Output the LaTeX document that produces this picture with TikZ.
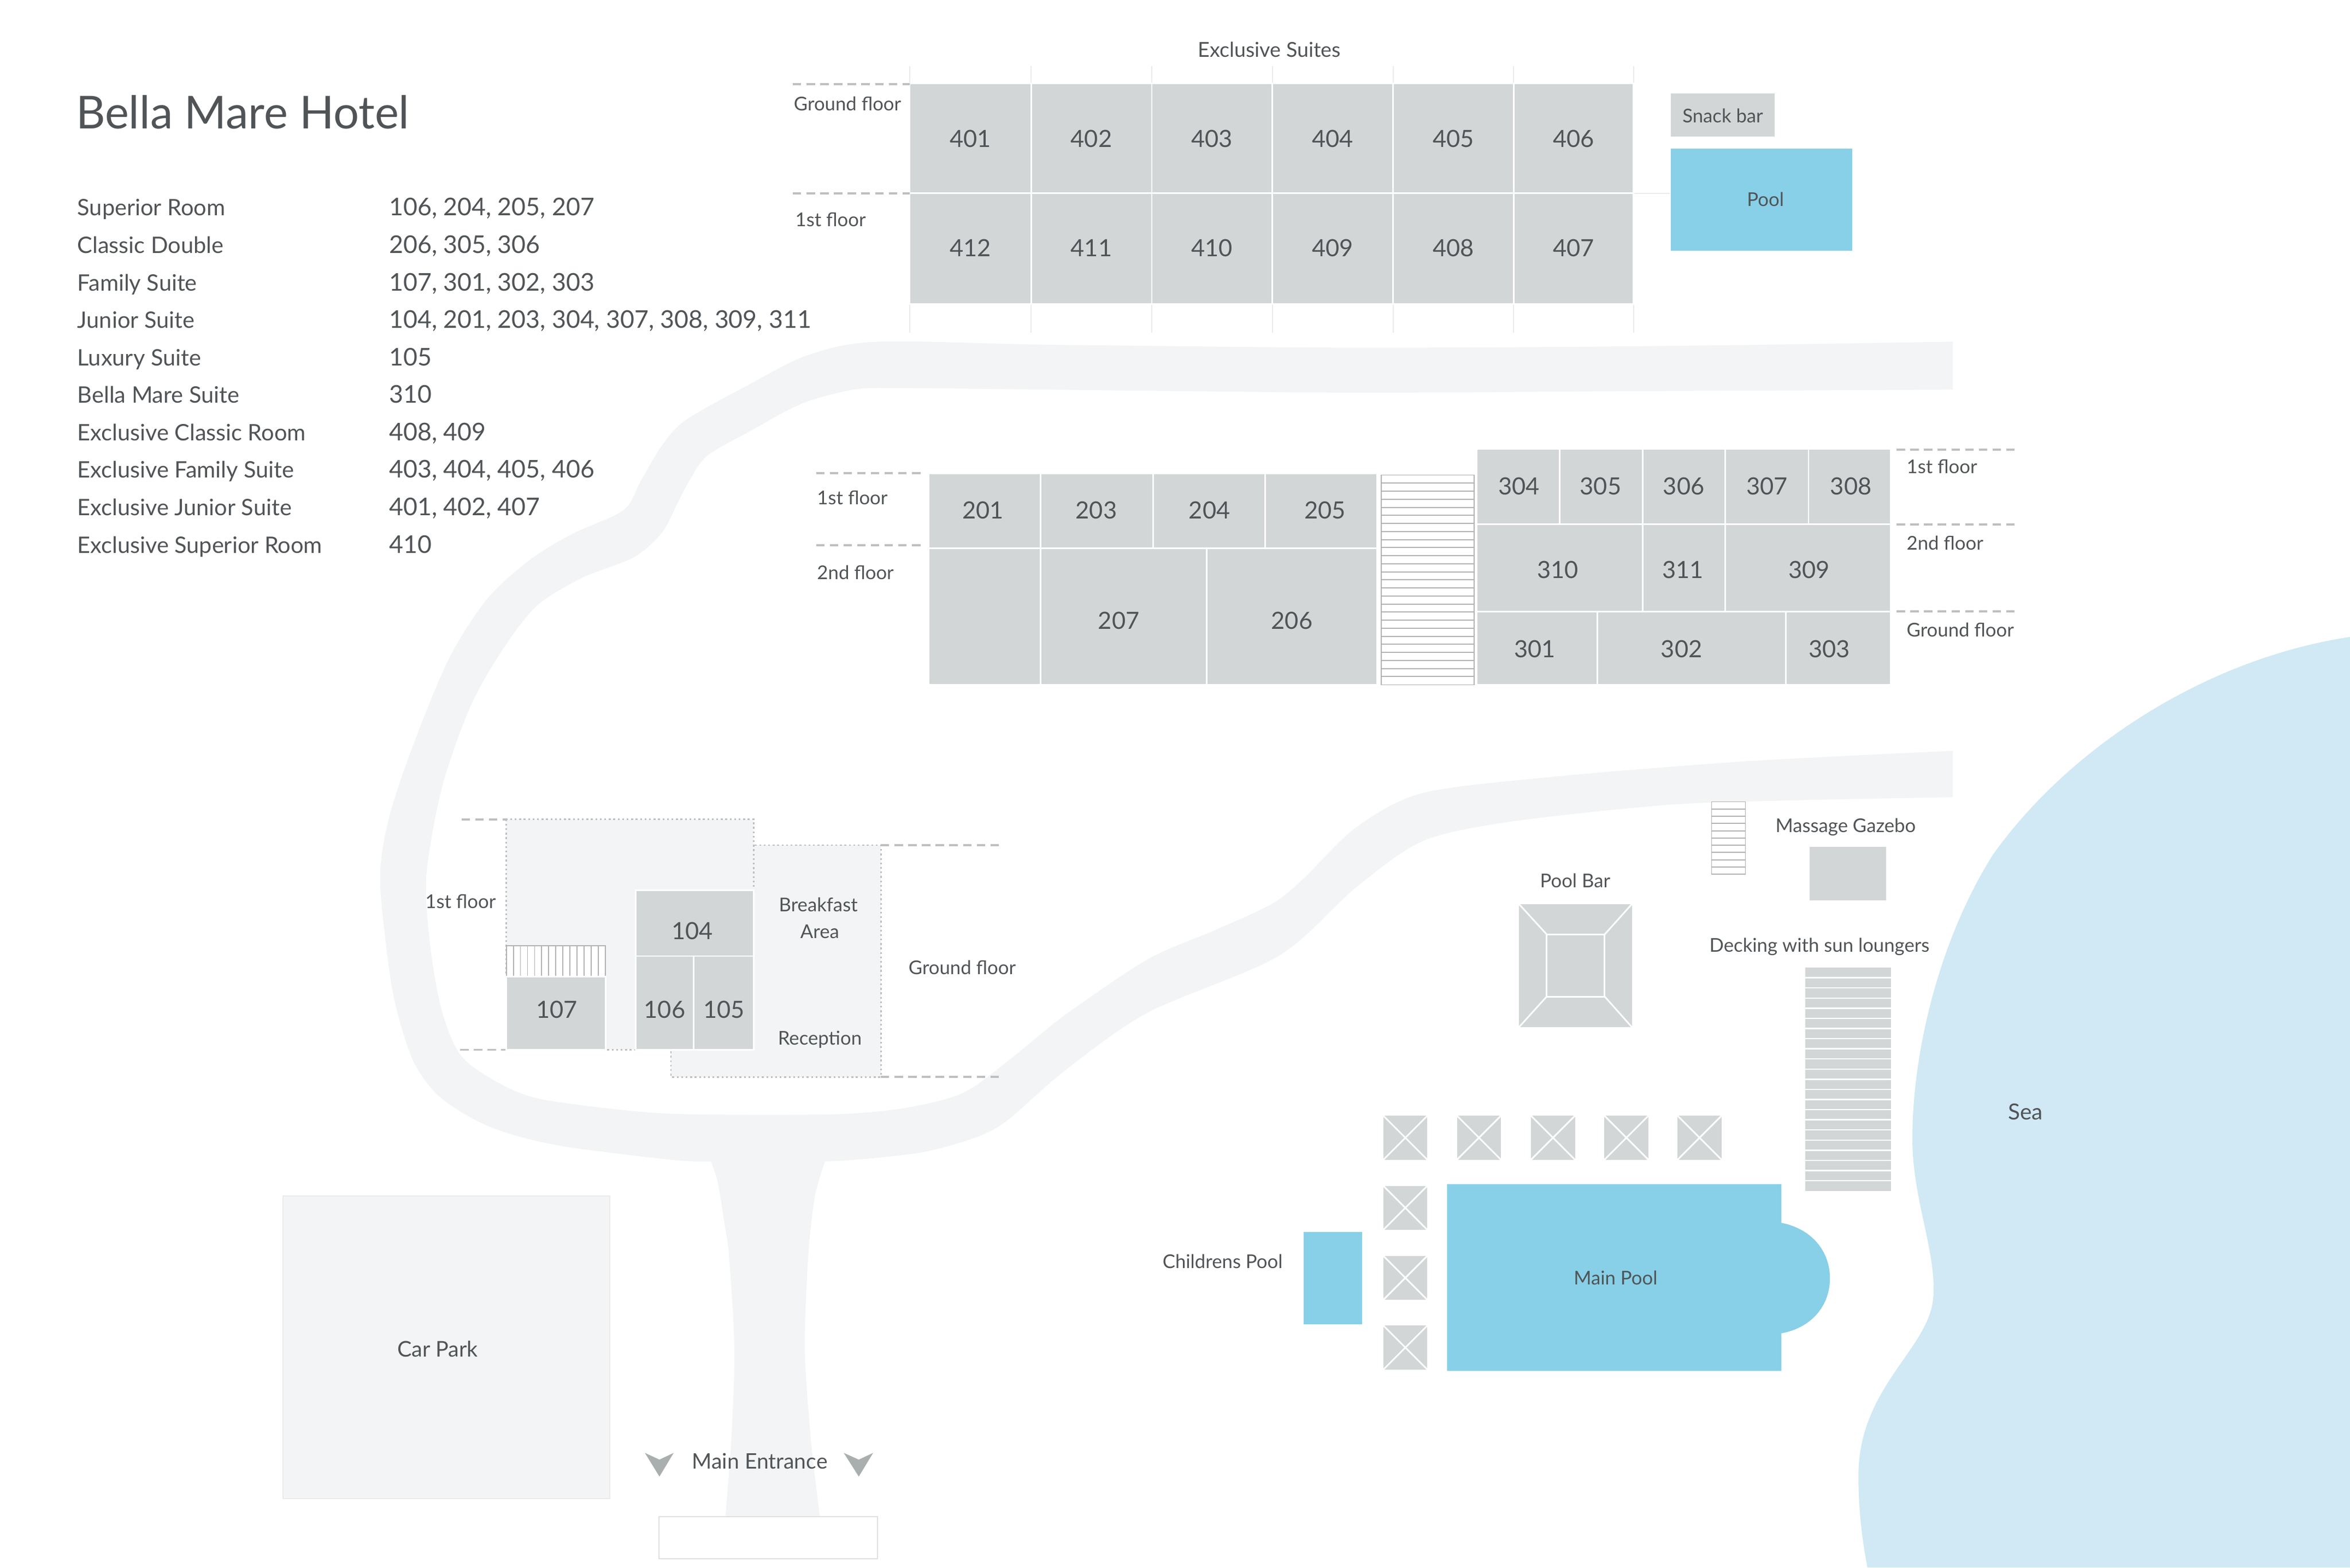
\documentclass[tikz,border=0pt]{standalone}
\usepackage{fontspec}
\setmainfont{Lato}
\definecolor{inktext}{HTML}{505456}
\definecolor{roomgray}{HTML}{D3D6D7}
\definecolor{roadgray}{HTML}{F3F4F5}
\definecolor{poolblue}{HTML}{88D0E7}
\definecolor{seablue}{HTML}{D0E9F4}
\definecolor{dashgray}{HTML}{BDBFC0}
\definecolor{arrowgray}{HTML}{A9AEAF}
\tikzset{
    plantext/.style={text=inktext, inner sep=0pt, text height=3pt, text depth=0pt},
    roomnum/.style={plantext, font=\fontsize{4.5}{5}\selectfont},
    listtext/.style={plantext, anchor=west, font=\fontsize{4.3}{5}\selectfont},
    listnums/.style={plantext, anchor=west, font=\fontsize{4.63}{5}\selectfont},
    smalltext/.style={plantext, font=\fontsize{3.6}{5}\selectfont},
    floortext/.style={smalltext, anchor=west},
    roomfill/.style={fill=roomgray, draw=white, line width=0.3pt},
    floorline/.style={draw=dashgray, line width=0.4pt, dash pattern=on 1.6pt off 1pt},
    blockedge/.style={fill=roadgray, draw=dashgray, line width=0.3pt, dash pattern=on 0.35pt off 0.5pt},
    stairline/.style={draw=black!30, line width=0.2pt},
    lightline/.style={draw=black!8, line width=0.2pt}
}
\begin{document}
\begin{tikzpicture}[x=0.01cm, y=-0.01cm]
    \useasboundingbox (0,0) rectangle (1568,1046);
    % sea
    \fill[seablue] (1568,425) .. controls (1470,440) and (1380,500) .. (1330,570)
        .. controls (1295,625) and (1276,700) .. (1276,760)
        .. controls (1276,800) and (1292,835) .. (1290,865)
        .. controls (1288,900) and (1240,925) .. (1240,985)
        .. controls (1240,1010) and (1243,1030) .. (1246,1046) -- (1568,1046) -- cycle;
    % roads
    \fill[roadgray] plot[smooth, tension=0.5] coordinates {(1303,228) (1100,231) (900,232) (700,230) (586,228) (539,237) (499.7,256.7) (458,280) (441.6,297.4) (427.7,320.7) (416,340.4) (381,356.7) (353,374) (325,399.7) (299.8,439) (276.5,495) (260,544) (253.6,584) (258,634) (264,671) (276,708.6) (294.4,732.8) (327.7,752.3) (373,764.4) (448.6,774) (474.3,775)}
        -- plot[smooth, tension=0.5] coordinates {(474.3,775) (478.8,788.6) (483.4,816.5) (486.4,838) (490,900) (488,960) (484,1012)}
        -- plot[smooth, tension=0.5] coordinates {(547,1012) (541,960) (537,900) (539.3,838) (543.8,798) (550.5,775)}
        -- plot[smooth, tension=0.5] coordinates {(550.5,775) (569.5,774) (615,769) (651,759) (672,747.7) (711,714) (766,675.6) (853,638) (905,592) (950,561) (1010,548) (1114,537) (1200,534) (1303,532)}
        -- plot[smooth, tension=0.5] coordinates {(1303,501) (1220,505) (1150,509) (1040,518) (950,529) (905,552) (870,586) (849,603) (810,621) (766,640) (711,677) (680,702) (651,724.4) (633,732.8) (600,740) (554.4,743.6) (463.7,743.6) (418.4,741) (358,732.8) (327.7,719.8) (306.5,703) (294.4,673) (287,630.5) (284.5,584) (295,525) (313.7,471.8) (334.6,434.6) (358,404.4) (388,385.8) (423,371.8) (441.6,355.5) (452,336) (460,320.7) (472,304) (500,288) (534.6,269.5) (569.5,260) (601.6,259) (700,260) (900,262) (1100,261) (1303,260)}
        -- cycle;
    % entrance
    \draw[fill=white, draw=black!12, line width=0.2pt] (439.5,1012) rectangle (585.5,1040);
    \fill[arrowgray] (430.3,969.5) -- (440,974) -- (449.5,969.5) -- (440,985.3) -- cycle;
    \fill[arrowgray] (563,969.5) -- (573,974) -- (582.6,969.5) -- (573,985.3) -- cycle;
    \node[plantext, font=\fontsize{4.05}{5}\selectfont] (entrance) at (507,975) {Main Entrance};
    % car park
    \draw[fill=roadgray, draw=black!8, line width=0.2pt] (189,798) rectangle (407,1000);
    \node[plantext, font=\fontsize{4.1}{5}\selectfont] (carpark) at (292,900) {Car Park};
    % title and list
    \node[plantext, anchor=west, text height=6.2pt, font=\fontsize{8.6}{11}\selectfont] (title) at (50,75) {Bella Mare Hotel};
    \foreach \name/\nums [count=\i] in {Superior Room/{106, 204, 205, 207}, Classic Double/{206, 305, 306}, Family Suite/{107, 301, 302, 303}, Junior Suite/{104, 201, 203, 304, 307, 308, 309, 311}, Luxury Suite/105, Bella Mare Suite/310, Exclusive Classic Room/{408, 409}, Exclusive Family Suite/{403, 404, 405, 406}, Exclusive Junior Suite/{401, 402, 407}, Exclusive Superior Room/410} {
        \node[listtext] (type\i) at (51,{113.7+25*\i}) {\name};
        \node[listnums] (nums\i) at (259,{113.7+25*\i}) {\nums};
    }
    % exclusive suites
    \foreach \x in {607,688,768.5,849,929.5,1010,1090}
        \draw[lightline] (\x,44) -- (\x,222);
    \draw[lightline] (1090,129) -- (1114,129);
    \foreach \xa/\xb/\top/\bottom/\ly/\num in {607/688/55.5/129/93/401, 688/768.5/55.5/129/93/402, 768.5/849/55.5/129/93/403, 849/929.5/55.5/129/93/404, 929.5/1010/55.5/129/93/405, 1010/1090/55.5/129/93/406, 607/688/129/203/166/412, 688/768.5/129/203/166/411, 768.5/849/129/203/166/410, 849/929.5/129/203/166/409, 929.5/1010/129/203/166/408, 1010/1090/129/203/166/407} {
        \draw[roomfill] (\xa,\top) rectangle (\xb,\bottom);
        \node[roomnum] (r\num) at ({(\xa+\xb)/2},\ly) {\num};
    }
    \node[plantext, font=\fontsize{3.9}{5}\selectfont] (suites) at (847,33) {Exclusive Suites};
    \draw[floorline] (529,56) -- (607,56);
    \draw[floorline] (529,129) -- (607,129);
    \node[floortext] (suitesground) at (529,68.5) {Ground floor};
    \node[floortext] (suitesfirst) at (530,146) {1st floor};
    \fill[roomgray] (1115,62.5) rectangle (1184,91);
    \node[smalltext] (snackbar) at (1149.5,76.5) {Snack bar};
    \fill[poolblue] (1115,99) rectangle (1236,167.5);
    \node[smalltext] (upperpool) at (1178,132.5) {Pool};
    % middle block
    \foreach \xa/\xb/\top/\bottom/\lx/\ly/\num in {619.5/694.4/315.8/366/656/341/201, 694.4/769.3/315.8/366/731.5/341/203, 769.3/844/315.8/366/807/341/204, 844/919/315.8/366/884/341/205, 619.5/694.4/366/457/656/414/{}, 694.4/805/366/457/746.5/414.5/207, 805/919/366/457/862/414.5/206, 985.4/1040.6/299.5/349.8/1013.5/325/304, 1040.6/1096/299.5/349.8/1068/325/305, 1096/1151/299.5/349.8/1123.5/325/306, 1151/1206.7/299.5/349.8/1179/325/307, 1206.7/1261.5/299.5/349.8/1235/325/308, 985.4/1096/349.8/408/1039.5/380.5/310, 1096/1151/349.8/408/1123/380.5/311, 1151/1261.5/349.8/408/1207/380.5/309, 985.4/1065.7/408/457/1024/433.5/301, 1065.7/1191.7/408/457/1122/433.5/302, 1191.7/1261.5/408/457/1220.5/433.5/303} {
        \draw[roomfill] (\xa,\top) rectangle (\xb,\bottom);
        \node[roomnum] (r\num) at (\lx,\ly) {\num};
    }
    \draw[stairline] (921.5,317) rectangle (983.5,457);
    \foreach \i in {1,...,25}
        \draw[stairline] (921.5,{317+\i*5.38}) -- (983.5,{317+\i*5.38});
    \draw[floorline] (544.5,315.8) -- (617,315.8);
    \draw[floorline] (544.5,364) -- (617,364);
    \node[floortext] (midfirst) at (544.5,331.5) {1st floor};
    \node[floortext] (midsecond) at (544.5,381.5) {2nd floor};
    \draw[floorline] (1265.5,300) -- (1344,300);
    \draw[floorline] (1265.5,350) -- (1344,350);
    \draw[floorline] (1265.5,408) -- (1344,408);
    \node[floortext] (eastfirst) at (1271.5,310.5) {1st floor};
    \node[floortext] (eastsecond) at (1271.5,361.5) {2nd floor};
    \node[floortext] (eastground) at (1271.5,419.5) {Ground floor};
    % reception block
    \draw[blockedge] (447.7,564) rectangle (587.7,718.6);
    \draw[blockedge] (337.8,546.7) rectangle (502.8,700.5);
    \draw[floorline] (308,546.7) -- (337.8,546.7);
    \draw[floorline] (307,700.5) -- (337.8,700.5);
    \draw[floorline] (587.7,564) -- (669.4,564);
    \draw[floorline] (587.7,718.6) -- (669.4,718.6);
    \fill[white] (337.8,631) rectangle (404,651.6);
    \draw[stairline] (337.8,631) rectangle (404,651.6);
    \foreach \i in {1,...,13}
        \draw[stairline] ({337.8+\i*4.73},631) -- ({337.8+\i*4.73},651.6);
    \foreach \xa/\xb/\top/\bottom/\lx/\ly/\num in {337.8/404/651.6/700.5/371.5/674/107, 424.3/502.8/594/638/462/621.5/104, 424.3/462.7/638/700.5/443.5/674/106, 462.7/502.8/638/700.5/483/674/105} {
        \draw[roomfill] (\xa,\top) rectangle (\xb,\bottom);
        \node[roomnum] (r\num) at (\lx,\ly) {\num};
    }
    \node[smalltext, anchor=east] (recfirst) at (331.5,601) {1st floor};
    \node[smalltext] (breakfast) at (546,603) {Breakfast};
    \node[smalltext] (area) at (547,621) {Area};
    \node[smalltext] (reception) at (547,692) {Reception};
    \node[smalltext] (recground) at (642,645) {Ground floor};
    % pool area
    \fill[white] (1142,535) rectangle (1164.6,583.4);
    \draw[stairline] (1142,535) rectangle (1164.6,583.4);
    \foreach \i in {1,...,9}
        \draw[stairline] (1142,{535+\i*4.84}) -- (1164.6,{535+\i*4.84});
    \node[smalltext] (gazebotext) at (1231.5,550) {Massage Gazebo};
    \draw[roomfill] (1207,564.6) rectangle (1259,601.5);
    \node[smalltext] (barlabel) at (1051,587) {Pool Bar};
    \draw[roomfill] (1013,602.7) rectangle (1089.4,686);
    \draw[roomfill] (1032,623.5) rectangle (1070.7,665);
    \draw[white, line width=0.3pt] (1013,602.7) -- (1032,623.5);
    \draw[white, line width=0.3pt] (1089.4,602.7) -- (1070.7,623.5);
    \draw[white, line width=0.3pt] (1013,686) -- (1032,665);
    \draw[white, line width=0.3pt] (1089.4,686) -- (1070.7,665);
    \node[smalltext] (decklabel) at (1214,630) {Decking with sun loungers};
    \fill[roomgray] (1204.5,645.7) rectangle (1261.7,794.6);
    \foreach \i in {1,...,21}
        \draw[white, line width=0.25pt] (1204.5,{645.7+\i*6.77}) -- (1261.7,{645.7+\i*6.77});
    % sun beds
    \foreach \xa/\ya in {922.5/744, 971.6/744, 1021/744, 1070/744, 1118.8/744, 922.5/790.8, 922.5/837.5, 922.5/884} {
        \draw[roomfill] (\xa,\ya) rectangle ({\xa+30.4},{\ya+30.4});
        \draw[white, line width=0.3pt] (\xa,\ya) -- ({\xa+30.4},{\ya+30.4});
        \draw[white, line width=0.3pt] ({\xa+30.4},\ya) -- (\xa,{\ya+30.4});
    }
    % pools
    \fill[poolblue] (870,822) rectangle (909,883.6);
    \node[smalltext, anchor=east] (kidspool) at (856.5,841) {Childrens Pool};
    \fill[poolblue] (965.5,790.2) -| (1188.6,816)
        .. controls (1209,820) and (1221,835) .. (1221,853)
        .. controls (1221,871) and (1209,886) .. (1188.6,889.7)
        |- (965.5,914.8) -- cycle;
    \node[smalltext] (mainpool) at (1078,852) {Main Pool};
    \node[plantext, font=\fontsize{4.2}{5}\selectfont] (sea) at (1351.5,742) {Sea};
\end{tikzpicture}
\end{document}
